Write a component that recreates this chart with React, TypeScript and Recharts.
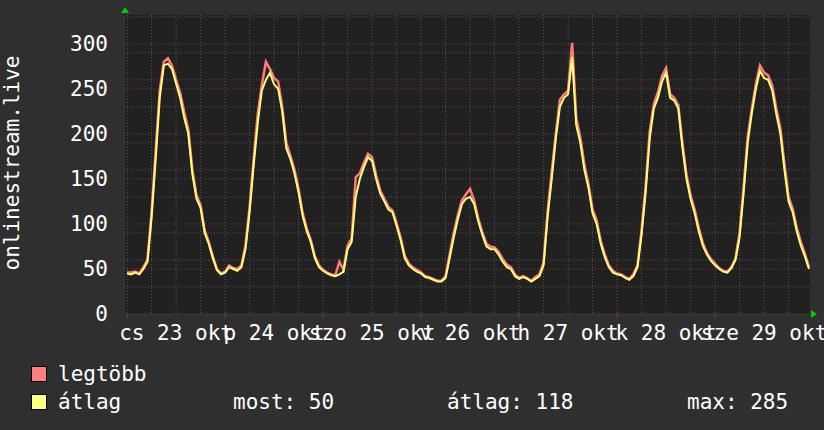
import React from 'react';
import { LineChart, Line, XAxis, YAxis, CartesianGrid, ReferenceLine } from 'recharts';

// hours since Thu 23 Oct 00:00
const dayLabels = ['cs 23 okt', 'p 24 okt', 'szo 25 okt', 'v 26 okt', 'h 27 okt', 'k 28 okt', 'sze 29 okt'];
const labelHours = [12, 36, 60, 84, 108, 132, 156];
const dayBoundaries = [0, 24, 48, 72, 96, 120, 144];
const yTicks = [0, 50, 100, 150, 200, 250, 300];
const minorY = [10, 20, 30, 40, 60, 70, 80, 90, 110, 120, 130, 140, 160, 170, 180, 190, 210, 220, 230, 240, 260, 270, 280, 290, 310, 320, 330];
const majorY = [50, 100, 150, 200, 250, 300];
const gridX = [0, 6, 12, 18, 24, 30, 36, 42, 48, 54, 60, 66, 72, 78, 84, 90, 96, 102, 108, 114, 120, 126, 132, 138, 144, 150, 156, 162];

const atlag = [
  45, 44, 46, 44, 50, 58, 107, 172, 240, 276, 278, 272, 256, 240, 218, 200, 155, 128, 118, 90, 78, 62, 49, 44,
  46, 52, 50, 48, 52, 72, 113, 165, 212, 248, 260, 268, 255, 250, 225, 184, 172, 156, 135, 109, 92, 80, 62, 52,
  48, 45, 43, 42, 44, 47, 72, 80, 130, 150, 163, 174, 170, 150, 134, 125, 116, 113, 98, 82, 62, 54, 50, 47,
  45, 41, 40, 38, 36, 36, 40, 62, 85, 105, 122, 128, 130, 122, 103, 88, 75, 72, 72, 66, 58, 52, 50, 42,
  39, 41, 39, 36, 39, 42, 54, 108, 150, 195, 230, 240, 244, 285, 210, 190, 160, 140, 112, 100, 78, 63, 52, 46,
  44, 43, 40, 38, 42, 52, 88, 135, 195, 228, 240, 258, 268, 240, 237, 228, 185, 150, 128, 112, 92, 76, 66, 59,
  54, 50, 47, 46, 51, 60, 85, 135, 190, 223, 250, 270, 262, 260, 248, 222, 200, 160, 125, 113, 92, 76, 64, 50,
];

const legtobb = [
  46, 46, 47, 45, 52, 60, 113, 180, 248, 280, 284, 276, 260, 246, 224, 205, 160, 132, 121, 93, 80, 64, 50, 45,
  47, 54, 51, 50, 54, 76, 118, 172, 222, 254, 280, 272, 262, 258, 230, 190, 176, 160, 139, 112, 95, 82, 64, 54,
  49, 46, 44, 43, 58, 49, 76, 84, 152, 156, 168, 178, 174, 154, 137, 128, 119, 115, 101, 85, 65, 56, 52, 49,
  46, 42, 41, 39, 37, 37, 42, 66, 90, 110, 126, 133, 139, 126, 106, 91, 78, 75, 74, 69, 61, 55, 52, 44,
  40, 42, 40, 37, 41, 44, 57, 114, 158, 200, 238, 244, 248, 301, 218, 196, 166, 144, 116, 104, 81, 66, 54, 48,
  45, 44, 41, 39, 44, 54, 93, 142, 203, 233, 246, 264, 273, 244, 240, 232, 190, 155, 132, 116, 96, 79, 68, 61,
  56, 51, 48, 47, 52, 62, 90, 142, 197, 228, 256, 276, 268, 265, 254, 228, 206, 166, 130, 117, 96, 80, 67, 52,
];

const data = atlag.map((a, i) => ({ h: i, atlag: a, legtobb: legtobb[i] }));

const FONT = '"DejaVu Sans Mono", monospace';

export default function App() {
  return (
    <div style={{ position: 'absolute', left: 0, top: 0, width: 824, height: 430, background: '#2f2f2f' }}>
      <LineChart width={824} height={430} data={data} margin={{ top: 15, right: 14, bottom: 86, left: 0 }}>
        <CartesianGrid fill="#212121" stroke="#565656" strokeDasharray="1 2" horizontalValues={minorY} verticalValues={gridX} />
        <CartesianGrid fill="none" stroke="#8a3636" strokeDasharray="1 2" horizontalValues={majorY} vertical={false} />
        <XAxis
          dataKey="h"
          type="number"
          domain={[-0.75, 167.25]}
          ticks={labelHours}
          tickFormatter={(v: number) => dayLabels[labelHours.indexOf(v)] ?? ''}
          tick={{ fill: '#ffffff', fontFamily: FONT, fontSize: 21 }}
          tickLine={false}
          tickSize={0}
          tickMargin={11}
          axisLine={{ stroke: '#3c3c3c' }}
          height={30}
          interval={0}
        />
        <YAxis
          type="number"
          domain={[0, 332]}
          allowDataOverflow
          ticks={yTicks}
          tick={{ fill: '#ffffff', fontFamily: FONT, fontSize: 21 }}
          tickLine={false}
          tickSize={0}
          tickMargin={16}
          axisLine={{ stroke: '#3c3c3c' }}
          width={124}
        />
        {dayBoundaries.map((d) => (
          <ReferenceLine key={d} segment={[{ x: d, y: 0 }, { x: d, y: -4 }]} stroke="#a03a3a" ifOverflow="visible" />
        ))}
        <Line type="linear" dataKey="legtobb" stroke="#ff7b7b" strokeWidth={2.5} dot={false} isAnimationActive={false} />
        <Line type="linear" dataKey="atlag" stroke="#ffff78" strokeWidth={2} dot={false} isAnimationActive={false} />
      </LineChart>
      <svg width={824} height={430} style={{ position: 'absolute', left: 0, top: 0, pointerEvents: 'none' }}>
        <text transform="translate(19,163) rotate(-90)" textAnchor="middle" fill="#ffffff" fontFamily={FONT} fontSize={21}>
          onlinestream.live
        </text>
        <polygon points="121,13 129,13 125,7" fill="#00cc00" />
        <polygon points="811,310 811,318 817,314" fill="#00cc00" />
        <rect x={31.5} y={366.5} width={15} height={15} fill="#ff7f7f" stroke="#000" />
        <text x={58} y={381} fill="#ffffff" fontFamily={FONT} fontSize={21}>legtöbb</text>
        <rect x={31.5} y={394.5} width={15} height={15} fill="#ffff7f" stroke="#000" />
        <text x={58} y={409} fill="#ffffff" fontFamily={FONT} fontSize={21}>átlag</text>
        <text x={233} y={409} fill="#ffffff" fontFamily={FONT} fontSize={21}>most: 50</text>
        <text x={447} y={409} fill="#ffffff" fontFamily={FONT} fontSize={21}>átlag: 118</text>
        <text x={687} y={409} fill="#ffffff" fontFamily={FONT} fontSize={21}>max: 285</text>
      </svg>
    </div>
  );
}
